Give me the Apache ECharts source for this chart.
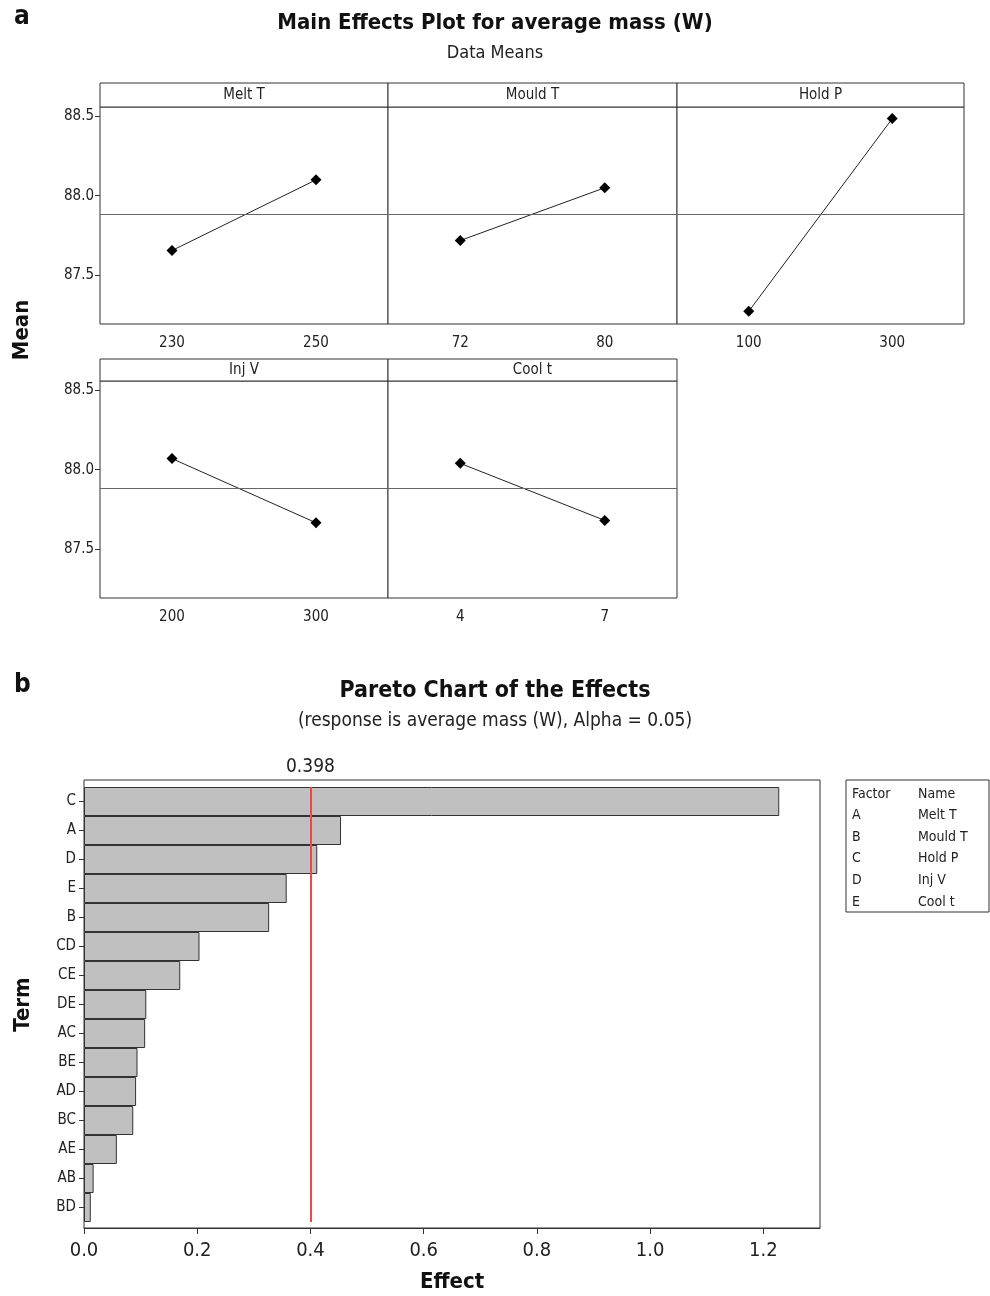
<!DOCTYPE html>
<html>
<head>
<meta charset="utf-8">
<script src="https://cdn.jsdelivr.net/npm/echarts@6/dist/echarts.min.js"></script>
<style>
  html, body { margin: 0; padding: 0; background: #fff; }
  #chart { width: 990px; height: 1296px; }
</style>
</head>
<body>
<div id="chart"></div>
<script>
// main effects data
const factors = ['Melt T', 'Mould T', 'Hold P', 'Inj V', 'Cool t']
const levels = [['230', '250'], ['72', '80'], ['100', '300'], ['200', '300'], ['4', '7']]
const means = [[87.654, 88.10], [87.717, 88.05], [87.27, 88.487], [88.07, 87.665], [88.04, 87.68]]
const grandMean = 87.875
const meanTicks = [87.5, 88.0, 88.5]

// pareto data
const terms = ['C', 'A', 'D', 'E', 'B', 'CD', 'CE', 'DE', 'AC', 'BE', 'AD', 'BC', 'AE', 'AB', 'BD']
const effects = [1.228, 0.454, 0.412, 0.358, 0.327, 0.204, 0.170, 0.110, 0.108, 0.0945, 0.092, 0.087, 0.058, 0.017, 0.012]
const critical = 0.398
const factorKey = [['A', 'Melt T'], ['B', 'Mould T'], ['C', 'Hold P'], ['D', 'Inj V'], ['E', 'Cool t']]

const FONT = '"DejaVu Sans Condensed", "DejaVu Sans", sans-serif'
const FRAME = '#333'

// panel layout
const colLeft = [100, 388, 677]
const colWidth = [288, 289, 287]
const rows = [{ strip: 83, top: 107 }, { strip: 359, top: 381 }]
const panelH = 217

const grids = []
const xAxes = []
const yAxes = []
const series = []
const graphics = []

factors.forEach((name, i) => {
  const r = Math.floor(i / 3)
  const c = i % 3
  const left = colLeft[c]
  const w = colWidth[c]
  grids.push({
    left: left, top: rows[r].top, width: w, height: panelH,
    show: true, borderColor: FRAME, borderWidth: 1, backgroundColor: '#fff'
  })
  xAxes.push({
    type: 'category', gridIndex: i, data: levels[i], boundaryGap: true,
    axisLine: { show: false }, axisTick: { show: false },
    axisLabel: { fontSize: 15, color: '#222', margin: 12, fontFamily: FONT }
  })
  yAxes.push({
    type: 'value', gridIndex: i, min: 87.19, max: 88.56,
    splitLine: { show: false },
    axisLine: { show: false },
    axisTick: { show: c === 0, customValues: meanTicks, length: 5, lineStyle: { color: FRAME } },
    axisLabel: {
      show: c === 0, customValues: meanTicks, fontSize: 15, color: '#222', margin: 6, fontFamily: FONT,
      formatter: v => v.toFixed(1)
    }
  })
  series.push({
    type: 'line', xAxisIndex: i, yAxisIndex: i, data: means[i],
    symbol: 'diamond', symbolSize: 11,
    lineStyle: { color: '#222', width: 1 },
    itemStyle: { color: '#000' },
    silent: true,
    markLine: {
      silent: true, symbol: 'none', label: { show: false },
      lineStyle: { color: '#666', width: 1, type: 'solid' },
      data: [{ yAxis: grandMean }]
    }
  })
  // strip header
  graphics.push({
    type: 'rect', shape: { x: left, y: rows[r].strip, width: w, height: rows[r].top - rows[r].strip },
    style: { fill: '#fff', stroke: FRAME, lineWidth: 1 }
  })
  graphics.push({
    type: 'text', x: left + w / 2, y: (rows[r].strip + rows[r].top) / 2,
    style: { text: name, fontSize: 15, fill: '#222', align: 'center', verticalAlign: 'middle', fontFamily: FONT }
  })
})

// pareto grid
const pIdx = factors.length
grids.push({ left: 84, top: 787, right: 170, bottom: 74 })
xAxes.push({
  type: 'value', gridIndex: pIdx, min: 0, max: 1.3, interval: 0.2, offset: 6,
  name: 'Effect', nameLocation: 'middle', nameGap: 43,
  nameTextStyle: { fontSize: 22, fontWeight: 'bold', color: '#111', fontFamily: FONT },
  splitLine: { show: false },
  axisLine: { show: true, lineStyle: { color: FRAME } },
  axisTick: { show: true, length: 6, lineStyle: { color: FRAME } },
  axisLabel: {
    fontSize: 20, color: '#222', margin: 13, fontFamily: FONT, showMaxLabel: false,
    formatter: v => v.toFixed(1)
  }
})
yAxes.push({
  type: 'category', gridIndex: pIdx, data: terms, inverse: true,
  name: 'Term', nameLocation: 'middle', nameGap: 50,
  nameTextStyle: { fontSize: 22, fontWeight: 'bold', color: '#111', fontFamily: FONT },
  axisLine: { show: false },
  axisTick: { show: true, alignWithLabel: true, length: 5, lineStyle: { color: FRAME } },
  axisLabel: { fontSize: 15, color: '#222', margin: 8, fontFamily: FONT }
})
series.push({
  type: 'bar', xAxisIndex: pIdx, yAxisIndex: pIdx, data: effects,
  barCategoryGap: '0%', silent: true,
  itemStyle: { color: '#c0c0c0', borderColor: '#333', borderWidth: 1 },
  markLine: {
    silent: true, symbol: 'none',
    lineStyle: { color: '#f04848', width: 2, type: 'solid' },
    label: { show: true, position: 'start', formatter: '0.398', fontSize: 19, color: '#222', distance: 10, fontFamily: FONT },
    data: [{ xAxis: critical }]
  }
})

// pareto frame
graphics.push({
  type: 'rect', shape: { x: 84, y: 780, width: 736, height: 448 },
  style: { fill: 'none', stroke: FRAME, lineWidth: 1 }, z: 10
})
// factor key box
graphics.push({
  type: 'rect', shape: { x: 846, y: 780, width: 143, height: 132 },
  style: { fill: '#fff', stroke: FRAME, lineWidth: 1 }
})
const keyRows = [['Factor', 'Name']].concat(factorKey)
keyRows.forEach((row, k) => {
  const y = 794 + k * 21.6
  graphics.push({ type: 'text', x: 852, y: y, style: { text: row[0], fontSize: 14, fill: '#222', verticalAlign: 'middle', fontFamily: FONT } })
  graphics.push({ type: 'text', x: 918, y: y, style: { text: row[1], fontSize: 14, fill: '#222', verticalAlign: 'middle', fontFamily: FONT } })
})
// "Mean" axis title between the rows
graphics.push({
  type: 'text', x: 22, y: 330, rotation: Math.PI / 2,
  style: { text: 'Mean', fontSize: 22, fontWeight: 'bold', fill: '#111', align: 'center', verticalAlign: 'middle', fontFamily: FONT }
})
// panel letters
graphics.push({ type: 'text', x: 14, y: 4, style: { text: 'a', fontSize: 26, fontWeight: 'bold', fill: '#111', fontFamily: FONT } })
graphics.push({ type: 'text', x: 14, y: 672, style: { text: 'b', fontSize: 26, fontWeight: 'bold', fill: '#111', fontFamily: FONT } })

const chart = echarts.init(document.getElementById('chart'))
chart.setOption({
  backgroundColor: '#fff',
  animation: false,
  title: [
    { text: 'Main Effects Plot for average mass (W)', left: 'center', top: 7, textStyle: { fontSize: 22, fontWeight: 'bold', color: '#111', fontFamily: FONT } },
    { text: 'Data Means', left: 'center', top: 39, textStyle: { fontSize: 18, fontWeight: 'normal', color: '#222', fontFamily: FONT } },
    { text: 'Pareto Chart of the Effects', left: 'center', top: 675, textStyle: { fontSize: 23, fontWeight: 'bold', color: '#111', fontFamily: FONT } },
    { text: '(response is average mass (W), Alpha = 0.05)', left: 'center', top: 707, textStyle: { fontSize: 19, fontWeight: 'normal', color: '#222', fontFamily: FONT } }
  ],
  grid: grids,
  xAxis: xAxes,
  yAxis: yAxes,
  series: series,
  graphic: graphics
})
</script>
</body>
</html>
